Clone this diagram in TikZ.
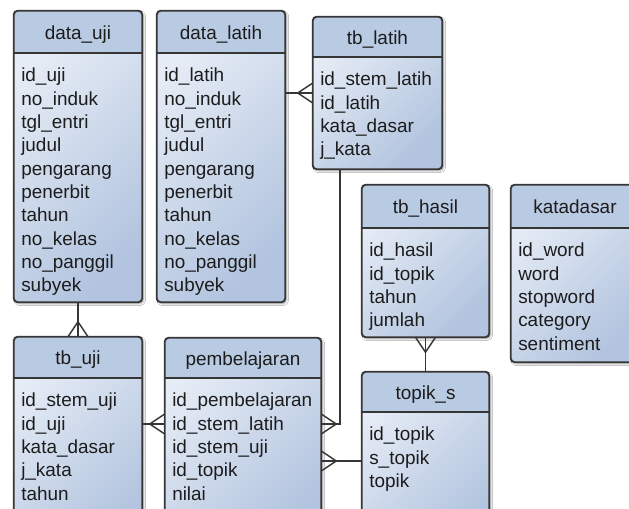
\documentclass[tikz,border=0pt]{standalone}
\usepackage{fontspec}
\setmainfont{Liberation Sans}
\usetikzlibrary{fit,calc,shadows.blur}

\definecolor{headfill}{HTML}{B9CAE3}
\definecolor{bodytop}{HTML}{E7EDF6}
\definecolor{bodybot}{HTML}{B2C4DF}
\definecolor{edgecol}{HTML}{363636}
\definecolor{inkcol}{HTML}{1C1C1C}

\tikzset{
  entity/.style={inner sep=0pt, rounded corners=3pt,
    top color=bodytop, bottom color=bodybot, shading angle=45,
    blur shadow={shadow xshift=1.2pt, shadow yshift=-1.2pt,
      shadow blur radius=1.6pt, shadow opacity=40}},
  border/.style={draw=edgecol, line width=1.4pt},
  rel/.style={draw=edgecol, line width=1.1pt},
  title/.style={inner sep=0pt, text=inkcol, font=\fontsize{14.2}{17.5}\selectfont},
  field/.style={inner sep=0pt, text=inkcol, font=\fontsize{14.2}{17.5}\selectfont},
}

% table: name, left, top, right, bottom, header bottom, title, fields
\newcommand\entity[8]{%
  \node[entity, fit={(#2,#3) (#4,#5)}] (#1) {};
  \begin{scope}
    \clip[rounded corners=3pt] (#2,#3) rectangle (#4,#5);
    \fill[headfill] (#2,#3) rectangle (#4,#6);
  \end{scope}
  \draw[border] (#2,#6) -- (#4,#6);
  \draw[border, rounded corners=3pt] (#1.north west) rectangle (#1.south east);
  \node[title, anchor=base] (#1-title) at ({(#2+#4)/2},{(#3+#6)/2+7.5}) {#7};
  \foreach \f [count=\i from 0] in {#8}
    \node[field, anchor=base west] (#1-f\i) at (#2+7, #6+29+23.3*\i) {\f};
}

% crow's foot at an entity edge point, opening towards the entity
\newcommand\crow[3]{%
  \draw[rel] ($(#1)+(10*#3,10*#2)$) -- ($(#1)+(15*#2,15*#3)$) -- ($(#1)+(-10*#3,-10*#2)$);
}

\begin{document}
\begin{tikzpicture}[x=0.75pt, y=-0.75pt]
  \useasboundingbox (0,0) rectangle (629,509);
  \fill[white] (0,0) rectangle (629,509);
  \clip (0,0) rectangle (629,509);

  \entity{datauji}{14}{11}{142}{302}{53}{data\_uji}
    {id\_uji, no\_induk, tgl\_entri, judul, pengarang, penerbit, tahun, no\_kelas, no\_panggil, subyek}
  \entity{datalatih}{157}{11}{285}{302}{53}{data\_latih}
    {id\_latih, no\_induk, tgl\_entri, judul, pengarang, penerbit, tahun, no\_kelas, no\_panggil, subyek}
  \entity{tblatih}{313}{17}{442}{169}{57}{tb\_latih}
    {id\_stem\_latih, id\_latih, kata\_dasar, j\_kata}
  \entity{tbhasil}{362}{185}{489}{337}{228}{tb\_hasil}
    {id\_hasil, id\_topik, tahun, jumlah}
  \entity{katadasar}{511}{185}{639}{362}{228}{katadasar}
    {id\_word, word, stopword, category, sentiment}
  \entity{tbuji}{14}{337}{142}{545}{378}{tb\_uji}
    {id\_stem\_uji, id\_uji, kata\_dasar, j\_kata, tahun}
  \entity{pembel}{165}{338}{321}{545}{378}{pembelajaran}
    {id\_pembelajaran, id\_stem\_latih, id\_stem\_uji, id\_topik, nilai}
  \entity{topiks}{362}{372}{489}{545}{412}{topik\_s}
    {id\_topik, s\_topik, topik}

  % levels of the connectors
  \path (0,93) coordinate (yLatih) (0,424) coordinate (yStem)
        (0,461) coordinate (yTopik) (340,0) coordinate (xLatih);

  \coordinate (e1) at (tblatih.west |- yLatih);
  \draw[rel] (datalatih.east |- yLatih) -- (e1);
  \crow{e1}{-1}{0}

  \coordinate (e2) at (tbuji.north);
  \draw[rel] (datauji.south) -- (e2);
  \crow{e2}{0}{-1}

  \coordinate (e3) at (pembel.west |- yStem);
  \draw[rel] (tbuji.east |- yStem) -- (e3);
  \crow{e3}{-1}{0}

  \coordinate (e4) at (pembel.east |- yStem);
  \draw[rel] (tblatih.south -| xLatih) |- (e4);
  \crow{e4}{1}{0}

  \coordinate (e5) at (pembel.east |- yTopik);
  \draw[rel] (topiks.west |- yTopik) -- (e5);
  \crow{e5}{1}{0}

  \coordinate (e6) at (tbhasil.south);
  \draw[rel] (e6) -- (topiks.north);
  \crow{e6}{0}{1}
\end{tikzpicture}
\end{document}
